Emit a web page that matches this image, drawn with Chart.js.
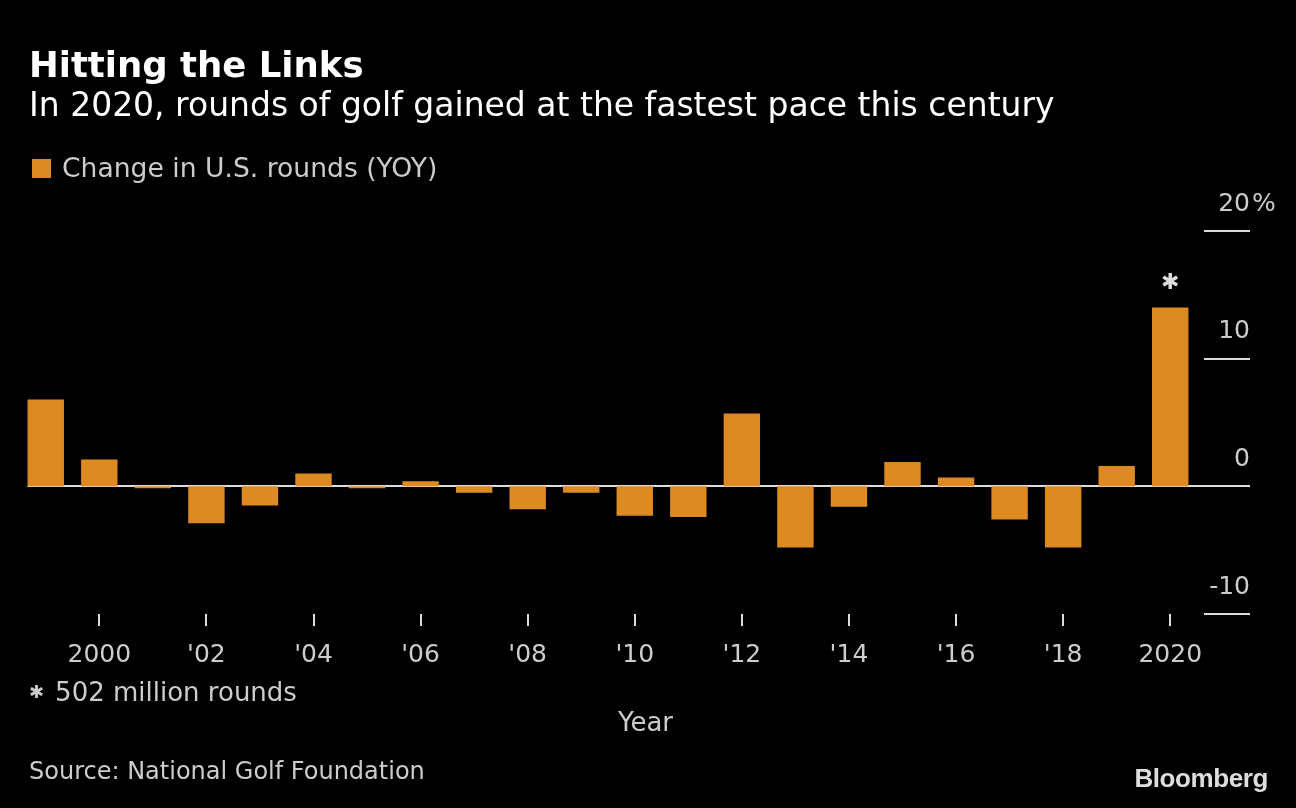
<!DOCTYPE html>
<html>
<head>
<meta charset="utf-8">
<script src="https://cdn.jsdelivr.net/npm/chart.js@4.4.0/dist/chart.umd.min.js"></script>
<style>
html, body { margin: 0; padding: 0; background: #000; }
body { width: 1296px; height: 808px; position: relative; overflow: hidden; font-family: "DejaVu Sans", sans-serif; color: #cccccc; }
.txt { position: absolute; line-height: 1; white-space: nowrap; }
#title { left: 29px; top: 47px; font-size: 35.5px; font-weight: bold; color: #fff; }
#subtitle { left: 29px; top: 88px; font-size: 33px; color: #fff; }
#legend { left: 62px; top: 155px; font-size: 26.6px; }
#legend-box { position: absolute; left: 32px; top: 159px; width: 19px; height: 19px; background: #de8a23; }
#note { left: 29px; top: 679px; font-size: 26px; }
#note span { font-size: 18px; position: relative; top: -3px; margin-right: 11px; }
#xtitle { left: 618px; top: 709px; font-size: 26px; }
#source { left: 29px; top: 759px; font-size: 24px; }
#logo { right: 28px; top: 765px; font-size: 26px; font-weight: bold; color: #dddddd; font-family: "Liberation Sans", Arial, sans-serif; letter-spacing: -0.4px; }
#wrap { position: absolute; left: 0; top: 0; width: 1296px; height: 808px; }
</style>
</head>
<body>
<div id="wrap"><canvas id="myChart"></canvas></div>
<div class="txt" id="title">Hitting the Links</div>
<div class="txt" id="subtitle">In 2020, rounds of golf gained at the fastest pace this century</div>
<div id="legend-box"></div>
<div class="txt" id="legend">Change in U.S. rounds (YOY)</div>
<div class="txt" id="note"><span>✱</span>502 million rounds</div>
<div class="txt" id="xtitle">Year</div>
<div class="txt" id="source">Source: National Golf Foundation</div>
<div class="txt" id="logo">Bloomberg</div>
<script>
const years = ['1999', '2000', '2001', '2002', '2003', '2004', '2005', '2006', '2007', '2008', '2009',
    '2010', '2011', '2012', '2013', '2014', '2015', '2016', '2017', '2018', '2019', '2020'];
const tickLabels = ['', '2000', '', "'02", '', "'04", '', "'06", '', "'08", '', "'10",
    '', "'12", '', "'14", '', "'16", '', "'18", '', '2020'];
const roundsChange = [6.8, 2.1, -0.15, -2.9, -1.5, 1.0, -0.15, 0.4, -0.5, -1.8, -0.5,
    -2.3, -2.4, 5.7, -4.8, -1.6, 1.9, 0.7, -2.6, -4.8, 1.6, 14.0];
const yTicks = [-10, 0, 10, 20];
const starYear = '2020';

const barColor = '#de8a23';
const lineColor = '#dcdcdc';
const labelColor = '#cccccc';

Chart.defaults.font.family = '"DejaVu Sans", sans-serif';

// y grid lines: full zero line, short stubs under the other tick labels
const refLines = {
    id: 'refLines',
    beforeDatasetsDraw(chart) {
        const { ctx, scales: { y } } = chart;
        const bars = chart.getDatasetMeta(0).data;
        const leftEdge = bars[0].x - bars[0].width / 2;
        ctx.save();
        ctx.strokeStyle = lineColor;
        ctx.lineWidth = 2;
        yTicks.forEach(v => {
            const py = Math.round(y.getPixelForValue(v));
            ctx.beginPath();
            ctx.moveTo(v === 0 ? leftEdge : y.right - 46, py);
            ctx.lineTo(y.right, py);
            ctx.stroke();
        });
        ctx.restore();
    },
    afterDatasetsDraw(chart) {
        const { ctx, scales: { y } } = chart;
        const bar = chart.getDatasetMeta(0).data[years.indexOf(starYear)];
        ctx.save();
        ctx.fillStyle = '#dddddd';
        ctx.textAlign = 'center';
        ctx.textBaseline = 'middle';
        ctx.font = '22px "DejaVu Sans"';
        ctx.fillText('✱', bar.x, bar.y - 24);
        // percent sign hangs past the right-aligned top label
        ctx.fillStyle = labelColor;
        ctx.textAlign = 'left';
        ctx.font = '25px "DejaVu Sans"';
        ctx.fillText('%', y.right + 2, y.getPixelForValue(yTicks[yTicks.length - 1]) - 27);
        ctx.restore();
    }
};

const ctx = document.getElementById('myChart').getContext('2d');
const myChart = new Chart(ctx, {
    type: 'bar',
    data: {
        labels: years,
        datasets: [{
            label: 'Change in U.S. rounds (YOY)',
            data: roundsChange,
            backgroundColor: barColor,
            borderWidth: 0,
            barPercentage: 0.68,
            categoryPercentage: 1
        }]
    },
    options: {
        responsive: true,
        maintainAspectRatio: false,
        animation: false,
        devicePixelRatio: 1,
        layout: {
            padding: { left: 19, right: 46, top: 231, bottom: 124 }
        },
        plugins: {
            legend: { display: false },
            tooltip: { enabled: false }
        },
        scales: {
            x: {
                offset: true,
                grid: {
                    offset: false,
                    drawOnChartArea: false,
                    drawTicks: true,
                    tickLength: 12,
                    lineWidth: 2,
                    color: c => tickLabels[c.index] ? lineColor : 'rgba(0,0,0,0)'
                },
                border: { display: false },
                ticks: {
                    autoSkip: false,
                    maxRotation: 0,
                    padding: 14,
                    color: labelColor,
                    font: { size: 25 },
                    callback: (v, i) => tickLabels[i]
                },
                afterFit: s => { s.height = 70; }
            },
            y: {
                position: 'right',
                min: -10,
                max: 20,
                afterBuildTicks: s => { s.ticks = yTicks.map(v => ({ value: v })); },
                grid: { display: false, drawTicks: false },
                border: { display: false },
                ticks: {
                    crossAlign: 'far',
                    padding: 0,
                    labelOffset: -27,
                    color: labelColor,
                    font: { size: 25 }
                },
                afterFit: s => { s.width = 53; }
            }
        }
    },
    plugins: [refLines]
});
</script>
</body>
</html>
